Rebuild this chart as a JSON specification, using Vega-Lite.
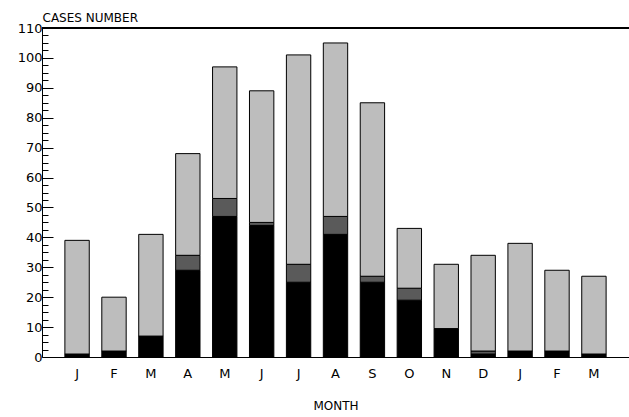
{
  "$schema": "https://vega.github.io/schema/vega-lite/v6.json",
  "autosize": "none",
  "width": 587,
  "height": 329,
  "padding": {"left": 42, "top": 28, "right": 0, "bottom": 60},
  "background": "white",
  "config": {
    "view": {"stroke": null},
    "font": "DejaVu Sans",
    "axis": {"labelFont": "DejaVu Sans", "titleFont": "DejaVu Sans", "labelColor": "black", "titleColor": "black", "domainColor": "black", "tickColor": "black", "labelFontSize": 13, "titleFontSize": 12, "titleFontWeight": "normal", "grid": false}
  },
  "data": {
    "values": [
      {"month": "J1", "part": "black", "k": 1, "cases": 1},
      {"month": "J1", "part": "hatch", "k": 3, "cases": 38},
      {"month": "F1", "part": "black", "k": 1, "cases": 2},
      {"month": "F1", "part": "hatch", "k": 3, "cases": 18},
      {"month": "M1", "part": "black", "k": 1, "cases": 7},
      {"month": "M1", "part": "hatch", "k": 3, "cases": 34},
      {"month": "A1", "part": "black", "k": 1, "cases": 29},
      {"month": "A1", "part": "cross", "k": 2, "cases": 5},
      {"month": "A1", "part": "hatch", "k": 3, "cases": 34},
      {"month": "M2", "part": "black", "k": 1, "cases": 47},
      {"month": "M2", "part": "cross", "k": 2, "cases": 6},
      {"month": "M2", "part": "hatch", "k": 3, "cases": 44},
      {"month": "J2", "part": "black", "k": 1, "cases": 44},
      {"month": "J2", "part": "cross", "k": 2, "cases": 1},
      {"month": "J2", "part": "hatch", "k": 3, "cases": 44},
      {"month": "J3", "part": "black", "k": 1, "cases": 25},
      {"month": "J3", "part": "cross", "k": 2, "cases": 6},
      {"month": "J3", "part": "hatch", "k": 3, "cases": 70},
      {"month": "A2", "part": "black", "k": 1, "cases": 41},
      {"month": "A2", "part": "cross", "k": 2, "cases": 6},
      {"month": "A2", "part": "hatch", "k": 3, "cases": 58},
      {"month": "S1", "part": "black", "k": 1, "cases": 25},
      {"month": "S1", "part": "cross", "k": 2, "cases": 2},
      {"month": "S1", "part": "hatch", "k": 3, "cases": 58},
      {"month": "O1", "part": "black", "k": 1, "cases": 19},
      {"month": "O1", "part": "cross", "k": 2, "cases": 4},
      {"month": "O1", "part": "hatch", "k": 3, "cases": 20},
      {"month": "N1", "part": "black", "k": 1, "cases": 9.5},
      {"month": "N1", "part": "hatch", "k": 3, "cases": 21.5},
      {"month": "D1", "part": "black", "k": 1, "cases": 1},
      {"month": "D1", "part": "cross", "k": 2, "cases": 1},
      {"month": "D1", "part": "hatch", "k": 3, "cases": 32},
      {"month": "J4", "part": "black", "k": 1, "cases": 2},
      {"month": "J4", "part": "hatch", "k": 3, "cases": 36},
      {"month": "F2", "part": "black", "k": 1, "cases": 2},
      {"month": "F2", "part": "hatch", "k": 3, "cases": 27},
      {"month": "M3", "part": "black", "k": 1, "cases": 1},
      {"month": "M3", "part": "hatch", "k": 3, "cases": 26}
    ]
  },
  "layer": [
    {
      "mark": {"type": "bar", "stroke": "black", "strokeWidth": 1},
      "encoding": {
        "x": {
          "field": "month", "type": "nominal", "sort": null,
          "scale": {"paddingInner": 0.34, "paddingOuter": 0.62},
          "axis": {"title": "MONTH", "labelAngle": 0, "labelExpr": "substring(datum.label, 0, 1)", "ticks": false, "labelPadding": 10, "titlePadding": 20, "domainWidth": 1}
        },
        "y": {
          "field": "cases", "type": "quantitative", "stack": "zero",
          "scale": {"domain": [0, 110], "nice": false},
          "axis": {
            "title": "CASES NUMBER", "titleAngle": 0, "titleAlign": "left", "titleBaseline": "bottom", "titleX": 0, "titleY": -4,
            "values": [0,2.5,5,7.5,10,12.5,15,17.5,20,22.5,25,27.5,30,32.5,35,37.5,40,42.5,45,47.5,50,52.5,55,57.5,60,62.5,65,67.5,70,72.5,75,77.5,80,82.5,85,87.5,90,92.5,95,97.5,100,102.5,105,107.5,110],
            "labelExpr": "datum.value % 10 === 0 ? datum.label : ''",
            "labelOverlap": false,
            "tickSize": {"condition": {"test": "datum.value % 10 === 0", "value": -11}, "value": -6},
            "labelPadding": 11,
            "labelFontSize": 13
          }
        },
        "color": {
          "field": "part", "type": "nominal", "legend": null,
          "scale": {"domain": ["black", "cross", "hatch"], "range": ["#000000", "#5a5a5a", "#bdbdbd"]}
        },
        "order": {"field": "k", "type": "quantitative"}
      }
    },
    {
      "mark": {"type": "rule", "color": "black", "strokeWidth": 1},
      "encoding": {
        "y": {
          "datum": 110, "type": "quantitative",
          "scale": {"domain": [0, 110], "nice": false},
          "axis": {
            "title": "CASES NUMBER", "titleAngle": 0, "titleAlign": "left", "titleBaseline": "bottom", "titleX": 0, "titleY": -4,
            "values": [0,2.5,5,7.5,10,12.5,15,17.5,20,22.5,25,27.5,30,32.5,35,37.5,40,42.5,45,47.5,50,52.5,55,57.5,60,62.5,65,67.5,70,72.5,75,77.5,80,82.5,85,87.5,90,92.5,95,97.5,100,102.5,105,107.5,110],
            "labelExpr": "datum.value % 10 === 0 ? datum.label : ''",
            "labelOverlap": false,
            "tickSize": {"condition": {"test": "datum.value % 10 === 0", "value": -11}, "value": -6},
            "labelPadding": 11,
            "labelFontSize": 13
          }
        }
      }
    }
  ]
}
